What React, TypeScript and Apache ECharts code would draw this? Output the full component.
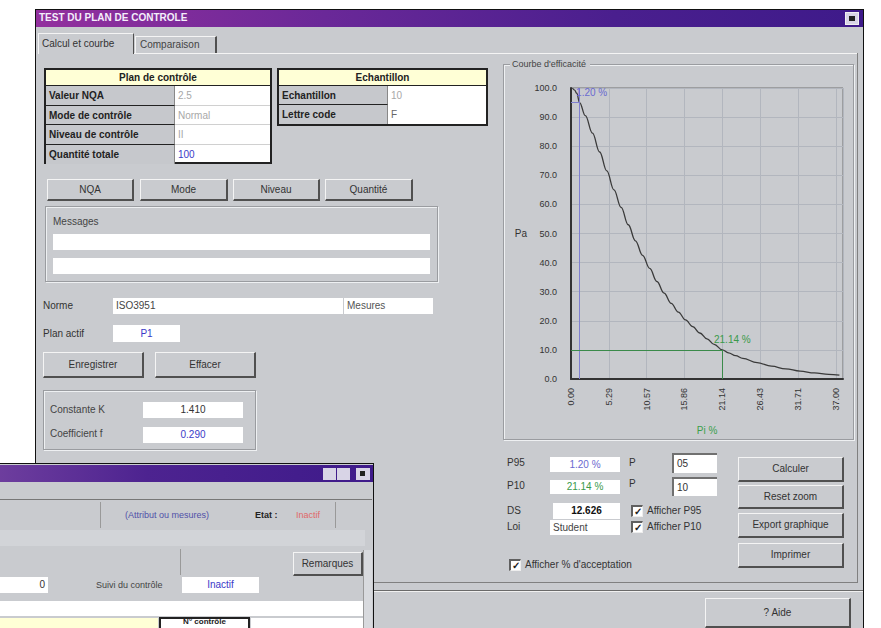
import React, { useEffect, useRef } from "react";
import * as echarts from "echarts";

// ---------- Chart data ----------
const pPercent = [0.2, 0.5, 0.8, 1.2, 2, 3, 4, 5, 6, 7, 8, 9, 10, 11, 12, 13, 14, 15, 16, 17, 18, 19, 20, 21.14, 22, 23, 24, 26, 28, 30, 32, 34, 36, 37.5];
const paPercent = [100, 99.3, 98.2, 95, 90.5, 84.5, 78, 71.5, 65, 59, 53, 47.5, 42.5, 38, 33.5, 29.5, 26, 23, 20.3, 18, 15.8, 13.8, 11.9, 10, 9.0, 8.0, 7.1, 5.6, 4.4, 3.5, 2.7, 2.1, 1.6, 1.3];
const xTickLabels = ["0.00", "5.29", "10.57", "15.86", "21.14", "26.43", "31.71", "37.00"];
const X_STEP = 5.285;
const X_MAX = 38;
const P95 = { p: 1.2, pa: 95, label: "1.20 %" };
const P10 = { p: 21.14, pa: 10, label: "21.14 %" };

// ---------- UI constants ----------
const FONT = "'Liberation Sans', Arial, sans-serif";
const BG = "#c9cbcf";

type AnyProps = { [k: string]: any };

function Abs({ x, y, w, h, style, children }: AnyProps) {
  return (
    <div style={{ position: "absolute", left: x, top: y, width: w, height: h, boxSizing: "border-box", ...style }}>
      {children}
    </div>
  );
}

function Txt({ x, y, text, color = "#222", bold = false, size = 10, w, align = "left" }: AnyProps) {
  return (
    <div
      style={{
        position: "absolute", left: x, top: y - 6, height: 12, lineHeight: "12px", width: w,
        fontSize: size, fontWeight: bold ? "bold" : "normal", color, whiteSpace: "nowrap", textAlign: align,
      }}
    >
      {text}
    </div>
  );
}

function Btn({ x, y, w, h, label }: AnyProps) {
  return (
    <Abs x={x} y={y} w={w} h={h}
      style={{
        background: BG, borderStyle: "solid", borderWidth: "1px 2px 2px 1px",
        borderColor: "#f4f4f4 #505050 #505050 #f4f4f4", textAlign: "center", lineHeight: `${h - 3}px`,
        fontSize: 10, color: "#333",
      }}>
      {label}
    </Abs>
  );
}

function Field({ x, y, w, h, text = "", color = "#333", align = "left", bold = false, sunken = false }: AnyProps) {
  return (
    <Abs x={x} y={y} w={w} h={h}
      style={{
        background: "#fff", fontSize: 10, color, textAlign: align, fontWeight: bold ? "bold" : "normal",
        lineHeight: `${h - (sunken ? 2 : 0)}px`, padding: "0 3px", whiteSpace: "nowrap", overflow: "hidden",
        borderStyle: "solid", borderWidth: sunken ? "2px 0 0 2px" : 0, borderColor: "#707070",
      }}>
      {text}
    </Abs>
  );
}

function Group({ x, y, w, h, label }: AnyProps) {
  return (
    <>
      <Abs x={x} y={y} w={w} h={h} style={{ border: "1px solid #9a9ca0", boxShadow: "1px 1px 0 #eef0f2 inset, 1px 1px 0 #eef0f2" }} />
      {label ? <Txt x={x + 8} y={y} text={label} color="#444" /> : null}
    </>
  );
}

function Check({ x, y, label }: AnyProps) {
  return (
    <>
      <Abs x={x} y={y - 6} w={12} h={12}
        style={{ background: "#fff", borderStyle: "solid", borderWidth: "2px 1px 1px 2px", borderColor: "#606060 #eee #eee #606060", fontSize: 10, lineHeight: "9px", textAlign: "center", fontWeight: "bold", color: "#222" }}>
        ✓
      </Abs>
      <Txt x={x + 16} y={y} text={label} color="#333" />
    </>
  );
}

function OCChart() {
  const ref = useRef<HTMLDivElement>(null);
  useEffect(() => {
    if (!ref.current) return;
    const chart = echarts.init(ref.current, undefined, { renderer: "svg" });
    const curve = pPercent.map((p, i) => [p, paPercent[i]]);
    const axisText = { fontSize: 9, color: "#333", fontFamily: FONT };
    chart.setOption({
      animation: false,
      grid: { left: 66, top: 18, right: 12, bottom: 60, show: true, borderColor: "#707070", borderWidth: 1 },
      xAxis: {
        type: "value", min: 0, max: X_MAX, interval: X_STEP,
        name: "Pi %", nameLocation: "middle", nameGap: 46,
        nameTextStyle: { color: "#3aa04a", fontSize: 10, fontFamily: FONT },
        axisLine: { show: true, onZero: false, lineStyle: { color: "#333", width: 2 } },
        axisTick: { show: false },
        axisLabel: {
          ...axisText, rotate: 90, margin: 9, showMaxLabel: false,
          formatter: (v: number) => xTickLabels[Math.round(v / X_STEP)] ?? "",
        },
        splitLine: { show: true, lineStyle: { color: "#b2b6be", width: 1 } },
      },
      yAxis: {
        type: "value", min: 0, max: 100, interval: 10,
        name: "Pa", nameLocation: "middle", nameRotate: 0, nameGap: 44,
        nameTextStyle: { color: "#333", fontSize: 10, fontFamily: FONT },
        axisLine: { show: true, lineStyle: { color: "#333", width: 2 } },
        axisTick: { show: false },
        axisLabel: { ...axisText, margin: 14, formatter: (v: number) => v.toFixed(1) },
        splitLine: { show: true, lineStyle: { color: "#b2b6be", width: 1 } },
      },
      series: [
        {
          type: "line", data: curve, symbol: "none", smooth: 0.4, smoothMonotone: "x",
          lineStyle: { color: "#3a3a3a", width: 1.3 },
          markLine: {
            symbol: "none", silent: true, label: { show: false }, animation: false,
            data: [
              [{ coord: [0, P95.pa], lineStyle: { color: "#8080d0", width: 1, type: "solid" } }, { coord: [P95.p, P95.pa] }],
              [{ coord: [P95.p, 100], lineStyle: { color: "#8080d0", width: 1, type: "solid" } }, { coord: [P95.p, 0] }],
              [{ coord: [0, P10.pa], lineStyle: { color: "#3a8a4a", width: 1, type: "solid" } }, { coord: [P10.p, P10.pa] }],
              [{ coord: [P10.p, P10.pa], lineStyle: { color: "#3a8a4a", width: 1, type: "solid" } }, { coord: [P10.p, 0] }],
            ],
          },
          markPoint: {
            symbol: "rect", symbolSize: 1, itemStyle: { color: "rgba(0,0,0,0)" }, silent: true,
            data: [
              { coord: [P95.p, 98.6], label: { show: true, formatter: P95.label, position: "right", distance: 0, offset: [-4, 0], color: "#6a6ad0", fontSize: 10, fontFamily: FONT } },
              { coord: [P10.p, P10.pa], label: { show: true, formatter: P10.label, position: "top", distance: 5, offset: [10, 0], color: "#3a9a4a", fontSize: 10, fontFamily: FONT } },
            ],
          },
        },
      ],
    });
    return () => chart.dispose();
  }, []);
  return <div ref={ref} style={{ position: "absolute", left: 505, top: 70, width: 350, height: 370 }} />;
}

export default function App() {
  return (
    <div style={{ position: "fixed", left: 0, top: 0, width: 881, height: 628, overflow: "hidden", background: "#fff", fontFamily: FONT, fontSize: 10 }}>
      {/* Main window */}
      <Abs x={35} y={9} w={829} h={640} style={{ background: BG, border: "1px solid #111" }} />
      <Abs x={36} y={10} w={827} h={17} style={{ background: "linear-gradient(to right, #93309e, #6a2898 35%, #4a1f8e 70%, #3e1a8a)" }} />
      <Txt x={39} y={18} text="TEST DU PLAN DE CONTROLE" color="#f4eefa" bold size={10} />
      <Abs x={845} y={12} w={14} h={13} style={{ background: "#d8d4e6", border: "1px solid #f0f0f0" }}>
        <div style={{ position: "absolute", left: 3, top: 3, width: 6, height: 5, background: "#222" }} />
      </Abs>

      {/* Tabs */}
      <Abs x={38} y={33} w={96} h={21} style={{ borderStyle: "solid", borderWidth: "1px 1px 0 1px", borderColor: "#f4f4f4 #505050 transparent #f4f4f4", background: BG }} />
      <Txt x={42} y={44} text="Calcul et courbe" color="#333" />
      <Abs x={135} y={36} w={82} h={17} style={{ borderStyle: "solid", borderWidth: "1px 2px 0 1px", borderColor: "#f4f4f4 #505050 transparent #f4f4f4" }} />
      <Txt x={140} y={45} text="Comparaison" color="#444" />
      <Abs x={134} y={53} w={724} h={1} style={{ background: "#f4f4f4" }} />
      <Abs x={857} y={53} w={1} h={530} style={{ background: "#808080" }} />
      <Abs x={373} y={582} w={485} h={1} style={{ background: "#808080" }} />

      {/* Plan de contrôle table */}
      <Abs x={44} y={68} w={228} h={96} style={{ border: "2px solid #222", background: "#fff" }} />
      <Abs x={46} y={70} w={224} h={16} style={{ background: "#ffffd6", borderBottom: "1px solid #222" }} />
      <Txt x={46} y={78} w={224} align="center" text="Plan de contrôle" bold size={10} />
      {[
        ["Valeur NQA", "2.5", "#a8a8a8"],
        ["Mode de contrôle", "Normal", "#a8a8a8"],
        ["Niveau de contrôle", "II", "#a8a8a8"],
        ["Quantité totale", "100", "#3a3ac8"],
      ].map(([l, v, c], i) => (
        <React.Fragment key={l}>
          <Abs x={46} y={86 + i * 19.5} w={129} h={19.5} style={{ background: "#c6c8cc", borderBottom: i < 3 ? "1px solid #222" : "none", borderRight: "1px solid #888" }} />
          <Abs x={175} y={86 + i * 19.5} w={95} h={19.5} style={{ borderBottom: i < 3 ? "1px solid #d0d0d0" : "none" }} />
          <Txt x={49} y={96 + i * 19.5} text={l} bold color="#222" />
          <Txt x={178} y={96 + i * 19.5} text={v} color={c} />
        </React.Fragment>
      ))}

      {/* Echantillon table */}
      <Abs x={277} y={68} w={211} h={58} style={{ border: "2px solid #222", background: "#fff" }} />
      <Abs x={279} y={70} w={207} h={16} style={{ background: "#ffffd6", borderBottom: "1px solid #222" }} />
      <Txt x={279} y={78} w={207} align="center" text="Echantillon" bold />
      {[
        ["Echantillon", "10", "#a8a8a8"],
        ["Lettre code", "F", "#666"],
      ].map(([l, v, c], i) => (
        <React.Fragment key={l}>
          <Abs x={279} y={86 + i * 19} w={109} h={19} style={{ background: "#c6c8cc", borderBottom: i < 1 ? "1px solid #222" : "none", borderRight: "1px solid #888" }} />
          <Txt x={282} y={96 + i * 19} text={l} bold color="#222" />
          <Txt x={391} y={96 + i * 19} text={v} color={c} />
        </React.Fragment>
      ))}

      {/* Buttons row */}
      <Btn x={47} y={179} w={87} h={22} label="NQA" />
      <Btn x={140} y={179} w={88} h={22} label="Mode" />
      <Btn x={233} y={179} w={87} h={22} label="Niveau" />
      <Btn x={325} y={179} w={88} h={22} label="Quantité" />

      {/* Messages */}
      <Group x={45} y={206} w={393} h={76} />
      <Txt x={53} y={222} text="Messages" color="#444" size={10} />
      <Field x={53} y={234} w={377} h={16} />
      <Field x={53} y={258} w={377} h={16} />

      <Txt x={43} y={306} text="Norme" color="#333" />
      <Field x={113} y={298} w={230} h={16} text="ISO3951" color="#444" />
      <Field x={344} y={298} w={89} h={16} text="Mesures" color="#555" />
      <Txt x={43} y={334} text="Plan actif" color="#333" />
      <Field x={113} y={325} w={67} h={17} text="P1" color="#3a3ac8" align="center" />

      <Btn x={43} y={352} w={101} h={26} label="Enregistrer" />
      <Btn x={155} y={352} w={101} h={26} label="Effacer" />

      <Group x={43} y={390} w={213} h={60} />
      <Txt x={50} y={410} text="Constante K" color="#444" />
      <Field x={143} y={402} w={100} h={16} text="1.410" color="#333" align="center" />
      <Txt x={50} y={434} text="Coefficient f" color="#444" />
      <Field x={143} y={427} w={100} h={16} text="0.290" color="#3a3ac8" align="center" />

      {/* Chart groupbox */}
      <Group x={503} y={64} w={351} h={376} />
      <Abs x={510} y={58} w={80} h={12} style={{ background: BG }} />
      <Txt x={512} y={64} text="Courbe d'efficacité" color="#444" size={9} />
      <OCChart />

      {/* Controls under chart */}
      <Txt x={507} y={463} text="P95" color="#333" />
      <Field x={550} y={457} w={70} h={15} text={P95.label} color="#6a6ad0" align="center" />
      <Txt x={629} y={463} text="P" color="#333" />
      <Field x={672} y={453} w={45} h={20} text="05" color="#333" sunken />
      <Txt x={507} y={486} text="P10" color="#333" />
      <Field x={550} y={480} w={70} h={14} text={P10.label} color="#3a9a4a" align="center" />
      <Txt x={629} y={484} text="P" color="#333" />
      <Field x={672} y={477} w={45} h={19} text="10" color="#333" sunken />
      <Txt x={507} y={511} text="DS" color="#333" />
      <Field x={553} y={503} w={67} h={16} text="12.626" color="#111" align="center" bold />
      <Check x={631} y={511} label="Afficher P95" />
      <Txt x={507} y={527} text="Loi" color="#333" />
      <Field x={550} y={520} w={70} h={15} text="Student" color="#444" />
      <Check x={631} y={527} label="Afficher P10" />
      <Check x={509} y={565} label="Afficher % d'acceptation" />

      <Btn x={738} y={457} w={106} h={25} label="Calculer" />
      <Btn x={738} y={485} w={106} h={24} label="Reset zoom" />
      <Btn x={738} y={513} w={106} h={25} label="Export graphique" />
      <Btn x={738} y={543} w={106} h={25} label="Imprimer" />

      {/* Bottom separator and help */}
      <Abs x={373} y={590} w={490} h={1} style={{ background: "#6a6a6a" }} />
      <Abs x={373} y={591} w={490} h={1} style={{ background: "#f0f0f0" }} />
      <Btn x={705} y={598} w={146} h={30} label="? Aide" />

      {/* Second overlapping window */}
      <Abs x={-5} y={463} w={379} h={180} style={{ background: BG, border: "1px solid #111" }} />
      <Abs x={-4} y={465} w={377} h={17} style={{ background: "linear-gradient(to right, #6e3e9e, #4d2390 40%, #3e1a8a)" }} />
      <Abs x={323} y={468} w={13} h={12} style={{ background: "#d8d4e6" }} />
      <Abs x={337} y={468} w={13} h={12} style={{ background: "#d8d4e6" }} />
      <Abs x={356} y={468} w={14} h={12} style={{ background: "#d8d4e6" }}>
        <div style={{ position: "absolute", left: 4, top: 3, width: 5, height: 5, background: "#222" }} />
      </Abs>
      <Abs x={0} y={499} w={372} h={1} style={{ background: "#777" }} />
      <Abs x={100} y={502} w={1} h={26} style={{ background: "#999" }} />
      <Abs x={335} y={502} w={1} h={26} style={{ background: "#999" }} />
      <Txt x={125} y={515} text="(Attribut ou mesures)" color="#5050a8" size={9} />
      <Txt x={255} y={515} text="Etat :" color="#222" bold size={9} />
      <Txt x={296} y={515} text="Inactif" color="#e06868" size={9} />
      <Abs x={0} y={530} w={365} h={16} style={{ background: "#d2d4d8" }} />
      <Abs x={180} y={549} w={1} h={26} style={{ background: "#999" }} />
      <Btn x={293} y={552} w={70} h={24} label="Remarques" />
      <Field x={0} y={577} w={48} h={16} text="0" color="#333" align="right" />
      <Txt x={96} y={585} text="Suivi du contrôle" color="#444" size={9} />
      <Field x={182} y={577} w={77} h={16} text="Inactif" color="#3a3ac8" align="center" />
      <Field x={0} y={601} w={363} h={15} />
      <Abs x={0} y={618} w={158} h={12} style={{ background: "#ffffd6" }} />
      <Abs x={159} y={617} w={91} h={13} style={{ border: "2px solid #222", background: "#fff" }} />
      <Txt x={159} y={622} w={91} align="center" text="N° contrôle" bold size={8} />
      <Abs x={251} y={618} w={112} h={12} style={{ background: "#fff" }} />
      <Abs x={363} y={550} w={9} h={80} style={{ background: "#d8dade", borderLeft: "1px solid #999" }} />
    </div>
  );
}
